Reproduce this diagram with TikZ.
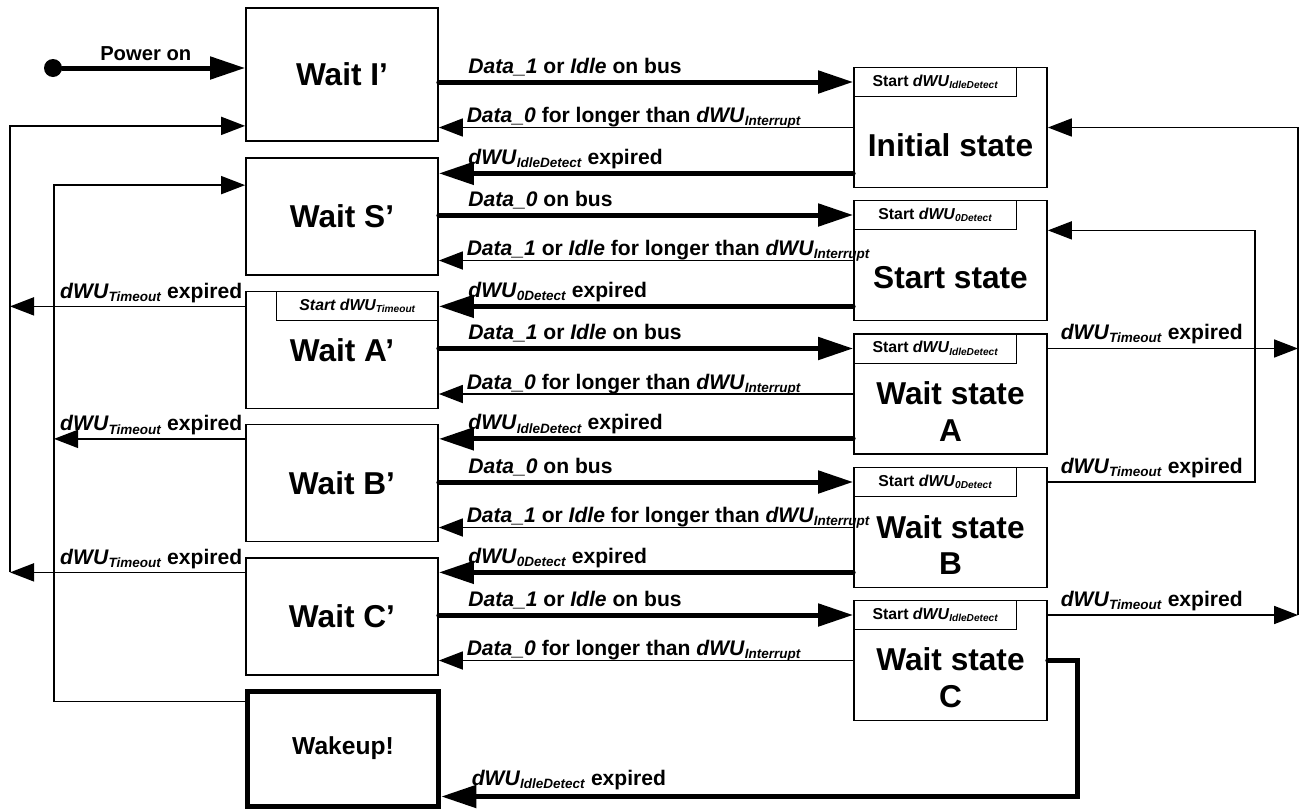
\documentclass[tikz,border=0pt]{standalone}
\usepackage{fontspec}
\setmainfont{Liberation Sans}
\usetikzlibrary{arrows.meta,positioning}

% timer names: italic dWU with a small lowered italic index
\newcommand{\dwu}[1]{\textit{dWU}\raisebox{-.3ex}{\scalebox{.64}{\textit{#1}}}}

\begin{document}
\begin{tikzpicture}[x=0.2mm,y=-0.2mm,font=\bfseries]
  \tikzset{
    lbox/.style={draw,line width=.35mm,minimum width=38.4mm,minimum height=23.4mm,inner sep=0pt,font=\fontsize{18}{21}\selectfont\bfseries},
    rbox/.style={draw,line width=.35mm,minimum width=38.6mm,minimum height=24mm,inner sep=0pt},
    rtext/.style={font=\fontsize{18}{21}\selectfont\bfseries,align=center,inner sep=0pt,yshift=-3.5mm},
    timer/.style={draw,line width=.25mm,minimum width=32.6mm,minimum height=5.9mm,inner sep=0pt,font=\fontsize{9}{10}\selectfont\bfseries},
    go/.style={line width=1mm,line cap=round,-{Triangle[length=7mm,width=4.4mm]}},
    back/.style={line width=.35mm,-{Triangle[length=4.8mm,width=3.6mm]}},
    wire/.style={line width=.35mm},
    lbl/.style={font=\fontsize{12}{14}\selectfont\bfseries,inner sep=0pt,anchor=base west}
  }
  \useasboundingbox (0,0) rectangle (1306,809);

  % left column
  \node[lbox,minimum height=26.6mm] (waitI) at (342,74.5) {Wait I'};
  \node[lbox] (waitS) at (342,216.5) {Wait S'};
  \node[lbox] (waitA) at (342,350) {Wait A'};
  \node[lbox] (waitB) at (342,483) {Wait B'};
  \node[lbox] (waitC) at (342,616.5) {Wait C'};
  \node[lbox,line width=1mm,minimum width=38.3mm,minimum height=23mm,font=\fontsize{14}{16}\selectfont\bfseries] (wake) at (343,748.5) {Wakeup!};
  \node[timer,anchor=north east,minimum width=32.4mm,font=\fontsize{9}{10}\selectfont\bfseries\itshape] (waitATimer) at (waitA.north east) {Start \dwu{Timeout}};

  % right column
  \node[rbox] (init) at (950.5,127.5) {};
  \node[timer,anchor=north west] (initTimer) at (init.north west) {Start \dwu{IdleDetect}};
  \node[rtext] (initText) at (init.center) {Initial state};
  \node[rbox] (start) at (950.5,260.5) {};
  \node[timer,anchor=north west] (startTimer) at (start.north west) {Start \dwu{0Detect}};
  \node[rtext] (startText) at (start.center) {Start state};
  \node[rbox] (stA) at (950.5,394) {};
  \node[timer,anchor=north west] (stATimer) at (stA.north west) {Start \dwu{IdleDetect}};
  \node[rtext] (stAText) at (stA.center) {Wait state\\A};
  \node[rbox] (stB) at (950.5,527.5) {};
  \node[timer,anchor=north west] (stBTimer) at (stB.north west) {Start \dwu{0Detect}};
  \node[rtext] (stBText) at (stB.center) {Wait state\\B};
  \node[rbox] (stC) at (950.5,660.5) {};
  \node[timer,anchor=north west] (stCTimer) at (stC.north west) {Start \dwu{IdleDetect}};
  \node[rtext] (stCText) at (stC.center) {Wait state\\C};

  % power on
  \node[circle,fill,inner sep=0pt,minimum size=3.6mm] (pwr) at (53,68) {};
  \draw[go] (pwr) -- node[lbl,anchor=base,xshift=-1.6mm,yshift=1.6mm,font=\fontsize{11.5}{13}\selectfont\bfseries] {Power on} (pwr -| waitI.west);

  \coordinate (initOut) at ([yshift=3mm]init.south west);
  \coordinate (startOut) at ([yshift=3mm]start.south west);
  \coordinate (stAOut) at ([yshift=3.2mm]stA.south west);
  \coordinate (stBOut) at ([yshift=3.2mm]stB.south west);

  % Wait I' <-> Initial state
  \draw[go] (initTimer.west -| waitI.east) -- node[lbl,pos=0,xshift=5.4mm,yshift=1.8mm] {\textit{Data\_1} or \textit{Idle} on bus} (initTimer.west);
  \draw[back] (init.west) -- node[lbl,pos=1,xshift=5.4mm,yshift=1mm] {\textit{Data\_0} for longer than \dwu{Interrupt}} (init.west -| waitI.east);
  \draw[go] (initOut) -- node[lbl,pos=1,xshift=5.4mm,yshift=1.8mm] {\dwu{IdleDetect} expired} (initOut -| waitS.east);

  % Wait S' <-> Start state
  \draw[go] (startTimer.west -| waitS.east) -- node[lbl,pos=0,xshift=5.4mm,yshift=1.8mm] {\textit{Data\_0} on bus} (startTimer.west);
  \draw[back] (start.west) -- node[lbl,pos=1,xshift=5.4mm,yshift=1mm] {\textit{Data\_1} or \textit{Idle} for longer than \dwu{Interrupt}} (start.west -| waitS.east);
  \draw[go] (startOut) -- node[lbl,pos=1,xshift=5.4mm,yshift=1.8mm] {\dwu{0Detect} expired} (startOut -| waitA.east);

  % Wait A' <-> Wait state A
  \draw[go] (stATimer.west -| waitA.east) -- node[lbl,pos=0,xshift=5.4mm,yshift=1.8mm] {\textit{Data\_1} or \textit{Idle} on bus} (stATimer.west);
  \draw[back] (stA.west) -- node[lbl,pos=1,xshift=5.4mm,yshift=1mm] {\textit{Data\_0} for longer than \dwu{Interrupt}} (stA.west -| waitA.east);
  \draw[go] (stAOut) -- node[lbl,pos=1,xshift=5.4mm,yshift=1.8mm] {\dwu{IdleDetect} expired} (stAOut -| waitB.east);

  % Wait B' <-> Wait state B
  \draw[go] (stBTimer.west -| waitB.east) -- node[lbl,pos=0,xshift=5.4mm,yshift=1.8mm] {\textit{Data\_0} on bus} (stBTimer.west);
  \draw[back] (stB.west) -- node[lbl,pos=1,xshift=5.4mm,yshift=1mm] {\textit{Data\_1} or \textit{Idle} for longer than \dwu{Interrupt}} (stB.west -| waitB.east);
  \draw[go] (stBOut) -- node[lbl,pos=1,xshift=5.4mm,yshift=1.8mm] {\dwu{0Detect} expired} (stBOut -| waitC.east);

  % Wait C' <-> Wait state C
  \draw[go] (stCTimer.west -| waitC.east) -- node[lbl,pos=0,xshift=5.4mm,yshift=1.8mm] {\textit{Data\_1} or \textit{Idle} on bus} (stCTimer.west);
  \draw[back] (stC.west) -- node[lbl,pos=1,xshift=5.4mm,yshift=1mm] {\textit{Data\_0} for longer than \dwu{Interrupt}} (stC.west -| waitC.east);

  % wake up
  \coordinate (wakeBend) at ([xshift=6mm]stC.east);
  \coordinate (wakeIn) at ([yshift=2.4mm]wake.south east);
  \draw[go] (stC.east) -- (wakeBend) -- (wakeBend |- wakeIn) -- node[lbl,pos=1,xshift=5.6mm,yshift=2.2mm] {\dwu{IdleDetect}\ expired} (wakeIn);

  % timeout returns on the left
  \coordinate (busL) at (10,0);
  \coordinate (busM) at (54,0);
  \coordinate (waitIIn) at ([yshift=3.2mm]waitI.south west);
  \coordinate (waitSIn) at ([yshift=-5.6mm]waitS.north west);
  \coordinate (wakeOut) at ([yshift=-2.6mm]wake.north west);
  \draw[back] (busL |- stBOut) -- (busL |- waitIIn) -- (waitIIn);
  \draw[back] (startOut -| waitA.west) -- node[lbl,pos=0,anchor=base east,xshift=-.4mm,yshift=1.6mm] {\dwu{Timeout} expired} (startOut -| busL);
  \draw[back] (stBOut -| waitC.west) -- node[lbl,pos=0,anchor=base east,xshift=-.4mm,yshift=1.6mm] {\dwu{Timeout} expired} (stBOut -| busL);
  \draw[back] (busM |- wakeOut) -- (busM |- waitSIn) -- (waitSIn);
  \draw[wire] (wakeOut) -- (busM |- wakeOut);
  \draw[back] (stAOut -| waitB.west) -- node[lbl,pos=0,anchor=base east,xshift=-.4mm,yshift=1.6mm] {\dwu{Timeout} expired} (stAOut -| busM);

  % timeout returns on the right
  \coordinate (busR) at (1298,0);
  \coordinate (busN) at (1255,0);
  \draw[back] (busR |- stCTimer.east) -- (busR |- init.east) -- (init.east);
  \draw[back] (stATimer.east -| stA.east) -- node[lbl,pos=0,xshift=2.4mm,yshift=1.8mm] {\dwu{Timeout} expired} (stATimer.east -| busR);
  \draw[back] (stCTimer.east -| stC.east) -- node[lbl,pos=0,xshift=2.4mm,yshift=1.8mm] {\dwu{Timeout} expired} (stCTimer.east -| busR);
  \draw[back] (stBTimer.east -| stB.east) -- node[lbl,pos=0,xshift=2.4mm,yshift=1.8mm] {\dwu{Timeout} expired} (stBTimer.east -| busN) -- (busN |- startTimer.south) -- (startTimer.south -| start.east);
\end{tikzpicture}
\end{document}
